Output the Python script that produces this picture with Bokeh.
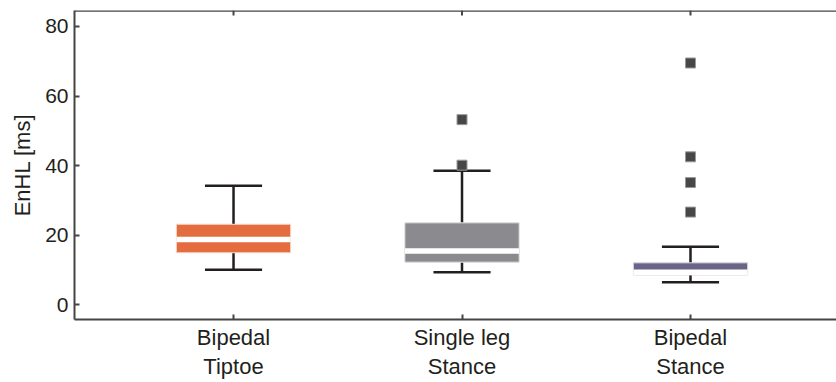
from bokeh.plotting import figure
from bokeh.models import Range1d, FixedTicker, LinearAxis, ColumnDataSource, Span
from bokeh.embed import file_html
from bokeh.resources import INLINE

# ---- data ----
line1 = ["Bipedal", "Single leg", "Bipedal"]
line2 = ["Tiptoe", "Stance", "Stance"]
pos = [1, 2, 3]
whisker_low = [10.0, 9.3, 6.4]
q1 = [14.9, 12.2, 8.5]
median = [18.7, 15.4, 9.3]
q3 = [23.1, 23.5, 12.0]
whisker_high = [34.2, 38.5, 16.6]
outlier_pos = [2, 2, 3, 3, 3, 3]
outlier_val = [53.2, 40.1, 69.5, 42.5, 35.1, 26.6]
y_ticks = [0, 20, 40, 60, 80]

# ---- style ----
fills = ["#E46D3F", "#8B8B8F", "#6A6487"]
edges = ["#F6D5C6", "#DCDCDE", "#D8D6E0"]
dark = "#231F20"
axis_col = "#454545"
txt_col = "#231F20"
FONT = "Liberation Sans"
YMIN, YMAX = -4.3, 84.6
FRAME_H = 309

p = figure(width=836, height=382, output_backend="svg", toolbar_location=None,
           x_range=Range1d(0.304, 3.639), y_range=Range1d(YMIN, YMAX),
           min_border_left=74, min_border_right=0, min_border_top=10,
           min_border_bottom=63, x_axis_location=None)
p.outline_line_color = None
p.grid.visible = False
p.background_fill_color = "white"

src = ColumnDataSource(dict(x=pos, lo=whisker_low, q1=q1, med=median, q3=q3,
                            hi=whisker_high, fill=fills, edge=edges))

# whiskers
p.segment(x0="x", y0="q3", x1="x", y1="hi", source=src, line_color=dark, line_width=2.5)
p.segment(x0="x", y0="lo", x1="x", y1="q1", source=src, line_color=dark, line_width=2.5)
# caps
cap_src = ColumnDataSource(dict(x0=[x - 0.125 for x in pos], x1=[x + 0.125 for x in pos],
                                lo=whisker_low, hi=whisker_high))
p.segment(x0="x0", y0="hi", x1="x1", y1="hi", source=cap_src, line_color=dark, line_width=2.5)
p.segment(x0="x0", y0="lo", x1="x1", y1="lo", source=cap_src, line_color=dark, line_width=2.5)
# boxes
p.vbar(x="x", width=0.5, bottom="q1", top="q3", source=src, fill_color="fill",
       line_color="edge", line_width=1)
# median
med_src = ColumnDataSource(dict(x0=[x - 0.25 for x in pos], x1=[x + 0.25 for x in pos], med=median))
p.segment(x0="x0", y0="med", x1="x1", y1="med", source=med_src, line_color="white", line_width=5.5)
# outliers
p.scatter(outlier_pos, outlier_val, marker="square", size=10, fill_color="#474747",
          line_color="#9a9a9a", line_width=1)

# top frame line with inward ticks
p.add_layout(Span(location=YMAX, dimension="width", line_color=axis_col, line_width=2.5))
tick_len = 5 * (YMAX - YMIN) / FRAME_H
p.segment(x0=pos, x1=pos, y0=[YMAX] * len(pos), y1=[YMAX - tick_len] * len(pos),
          line_color=axis_col, line_width=2)

# y axis
ya = p.yaxis[0]
ya.ticker = FixedTicker(ticks=y_ticks)
ya.axis_label = "EnHL [ms]"
ya.axis_label_text_font = FONT
ya.axis_label_text_font_size = "22px"
ya.axis_label_text_font_style = "normal"
ya.axis_label_text_color = txt_col
ya.axis_label_standoff = 7
ya.major_label_text_font = FONT
ya.major_label_text_font_size = "21px"
ya.major_label_text_color = txt_col
ya.major_label_standoff = 6
ya.major_tick_in = 5
ya.major_tick_out = 0
ya.minor_tick_line_color = None
ya.axis_line_color = axis_col
ya.axis_line_width = 2
ya.major_tick_line_color = axis_col
ya.major_tick_line_width = 2

# bottom axis line 1
xa1 = LinearAxis(ticker=FixedTicker(ticks=pos),
                 major_label_overrides={x: l for x, l in zip(pos, line1)})
xa1.major_label_text_font = FONT
xa1.major_label_text_font_size = "22px"
xa1.major_label_text_color = txt_col
xa1.major_label_standoff = 5
xa1.major_tick_in = 5
xa1.major_tick_out = 0
xa1.minor_tick_line_color = None
xa1.axis_line_color = axis_col
xa1.axis_line_width = 2
xa1.major_tick_line_color = axis_col
xa1.major_tick_line_width = 2
p.add_layout(xa1, "below")

# bottom axis line 2
xa2 = LinearAxis(ticker=FixedTicker(ticks=pos),
                 major_label_overrides={x: l for x, l in zip(pos, line2)})
xa2.major_label_text_font = FONT
xa2.major_label_text_font_size = "22px"
xa2.major_label_text_color = txt_col
xa2.major_label_standoff = 1
xa2.major_tick_in = 0
xa2.major_tick_out = 0
xa2.minor_tick_line_color = None
xa2.axis_line_color = None
xa2.major_tick_line_color = None
p.add_layout(xa2, "below")

open("out.html", "w").write(file_html(p, INLINE))
